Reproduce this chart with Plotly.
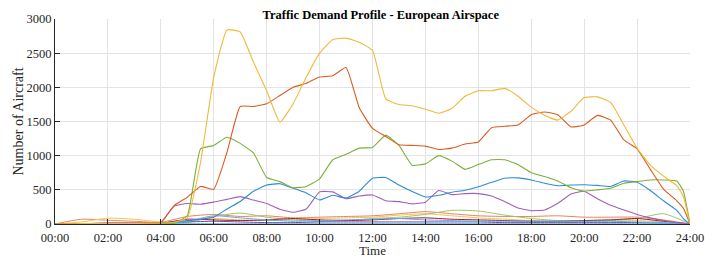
import plotly.graph_objects as go

# ---- data ----
hours = [0, 0.5, 1, 1.5, 2, 2.5, 3, 3.5, 4, 4.5, 5, 5.5, 6, 6.5, 7, 7.5, 8, 8.5, 9, 9.5,
         10, 10.5, 11, 11.5, 12, 12.5, 13, 13.5, 14, 14.5, 15, 15.5, 16, 16.5, 17, 17.5,
         18, 18.5, 19, 19.5, 20, 20.5, 21, 21.5, 22, 22.5, 23, 23.5, 23.75, 24]

yellow_main = [0, 3, 5, 5, 6, 8, 8, 10, 15, 25, 90, 900, 2150, 2840, 2810, 2370, 1950, 1490, 1760, 2150,
               2500, 2700, 2720, 2660, 2540, 1830, 1750, 1730, 1680, 1620, 1690, 1870, 1950, 1950, 1985, 1870,
               1710, 1590, 1520, 1650, 1850, 1860, 1780, 1450, 1110, 860, 700, 560, 400, 0]

orange_main = [0, 3, 5, 5, 5, 6, 8, 10, 20, 270, 390, 550, 510, 1050, 1720, 1720, 1760, 1880, 2000, 2060,
               2150, 2170, 2290, 1700, 1400, 1280, 1160, 1150, 1140, 1090, 1110, 1170, 1200, 1410, 1430, 1450,
               1600, 1640, 1600, 1420, 1450, 1590, 1520, 1230, 1100, 800, 510, 340, 230, 0]

green_main = [0, 2, 3, 4, 5, 5, 5, 5, 5, 10, 120, 1100, 1150, 1270, 1180, 1040, 680, 620, 530, 550,
              660, 940, 1020, 1110, 1120, 1300, 1150, 860, 880, 1000, 920, 800, 870, 940, 940, 870,
              750, 695, 630, 530, 480, 500, 523, 596, 620, 645, 645, 630, 480, 0]

blue_main = [0, 0, 0, 0, 0, 0, 0, 0, 5, 30, 50, 70, 100, 220, 330, 480, 570, 590, 525, 455,
             352, 420, 380, 480, 670, 680, 570, 475, 395, 420, 465, 495, 545, 610, 670, 675,
             645, 596, 560, 570, 575, 565, 550, 630, 610, 490, 340, 200, 80, 0]

purple_main = [0, 2, 3, 4, 5, 5, 5, 5, 20, 260, 300, 290, 320, 360, 400, 350, 300, 215, 172, 220,
               470, 470, 370, 410, 425, 340, 327, 295, 320, 490, 430, 445, 445, 410, 327, 235,
               195, 205, 300, 440, 480, 370, 275, 205, 140, 90, 50, 20, 10, 0]

hours_hourly = list(range(0, 25))

orange_small = [0, 70, 55, 40, 25, 110, 140, 110, 120, 90, 100, 110, 120, 150, 180, 150, 120, 110, 110, 120, 100, 100, 100, 60, 0]
yellow_small = [0, 30, 85, 70, 30, 40, 80, 60, 50, 60, 80, 90, 100, 130, 150, 120, 90, 70, 50, 40, 50, 60, 50, 30, 0]
green_small = [0, 0, 5, 5, 5, 20, 110, 160, 100, 60, 40, 50, 80, 100, 140, 200, 190, 130, 80, 50, 40, 50, 80, 150, 0]
darkred_small = [0, 5, 10, 10, 10, 70, 60, 50, 60, 80, 60, 50, 60, 80, 90, 70, 60, 50, 40, 40, 50, 60, 80, 40, 0]
purple_small = [0, 5, 15, 15, 15, 30, 40, 30, 20, 20, 30, 30, 30, 30, 30, 30, 30, 20, 20, 20, 20, 20, 20, 10, 0]
blue_small = [0, 0, 0, 0, 0, 40, 120, 90, 60, 40, 50, 60, 70, 80, 60, 50, 40, 40, 40, 40, 40, 40, 30, 20, 0]
lightblue_small = [0, 0, 0, 0, 0, 5, 5, 5, 5, 5, 5, 5, 5, 5, 5, 5, 5, 5, 5, 5, 5, 5, 5, 5, 0]

tick_hours = list(range(0, 25, 2))
tick_labels = ["00:00", "02:00", "04:00", "06:00", "08:00", "10:00", "12:00",
               "14:00", "16:00", "18:00", "20:00", "22:00", "24:00"]
y_ticks = [0, 500, 1000, 1500, 2000, 2500, 3000]

title_text = "Traffic Demand Profile - European Airspace"
x_title = "Time"
y_title = "Number of Aircraft"

# ---- figure ----
fig = go.Figure()

small = [
    (orange_small, "#e8835a"),
    (yellow_small, "#f2c45c"),
    (green_small, "#9cc66a"),
    (darkred_small, "#a2142f"),
    (purple_small, "#8a3a9a"),
    (blue_small, "#5aaee6"),
    (lightblue_small, "#4dbeee"),
]
for vals, col in small:
    fig.add_trace(go.Scatter(x=hours_hourly, y=vals, mode="lines",
                             line=dict(color=col, width=1, shape="spline", smoothing=0.6),
                             showlegend=False, hoverinfo="skip"))

main = [
    (purple_main, "#a060b8"),
    (blue_main, "#2b8cd6"),
    (green_main, "#7cb038"),
    (orange_main, "#dd5a1e"),
    (yellow_main, "#f0b93a"),
]
for vals, col in main:
    fig.add_trace(go.Scatter(x=hours, y=vals, mode="lines",
                             line=dict(color=col, width=1.1, shape="spline", smoothing=0.4),
                             showlegend=False, hoverinfo="skip"))

font_family = "Liberation Serif, Times New Roman, serif"

# the page places the figure 8px from the top-left corner, so the figure is
# sized to fit inside the 718x257 window
fig.update_layout(
    width=710, height=249,
    margin=dict(l=47, r=28, t=11, b=33, autoexpand=False),
    paper_bgcolor="white", plot_bgcolor="white",
    font=dict(family=font_family, size=13, color="#262626"),
    title=dict(text="<b>" + title_text + "</b>", x=0.513, xanchor="center",
               xref="paper", yref="container", y=0.99, yanchor="top",
               pad=dict(t=0, b=0),
               font=dict(family=font_family, size=12.5, color="#000000")),
    showlegend=False,
    annotations=[
        dict(text=y_title, xref="paper", yref="paper", x=0, y=0.5,
             xanchor="center", yanchor="middle", xshift=-37, textangle=-90,
             showarrow=False, font=dict(family=font_family, size=14, color="#262626")),
        dict(text=x_title, xref="paper", yref="paper", x=0.5, y=0,
             xanchor="center", yanchor="middle", yshift=-26, height=14,
             showarrow=False, font=dict(family=font_family, size=13, color="#262626")),
    ],
)

fig.update_xaxes(
    range=[0, 24], tickvals=tick_hours, ticktext=tick_labels,
    showgrid=True, gridcolor="#e3e3e3", gridwidth=1,
    showline=True, linecolor="#262626", linewidth=1,
    ticks="inside", ticklen=5, tickcolor="#262626",
    zeroline=False, automargin=False,
    ticklabelstandoff=2,
    tickfont=dict(size=12.5),
)
fig.update_yaxes(
    range=[0, 3000], tickvals=y_ticks,
    showgrid=True, gridcolor="#e3e3e3", gridwidth=1,
    showline=True, linecolor="#262626", linewidth=1,
    ticks="inside", ticklen=5, tickcolor="#262626",
    zeroline=False, automargin=False,
    tickfont=dict(size=12.5),
)

fig.write_html("out.html")
